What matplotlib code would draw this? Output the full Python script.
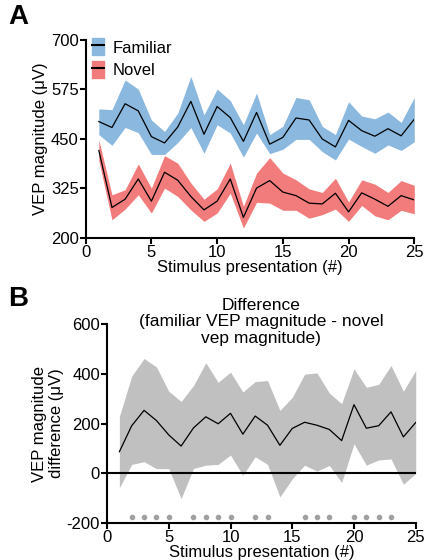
import numpy as np
import matplotlib.pyplot as plt
from matplotlib.patches import Patch
from matplotlib.lines import Line2D

plt.rcParams.update({
    "font.family": ["Liberation Sans", "DejaVu Sans"],
    "axes.unicode_minus": False,
    "axes.linewidth": 1.5,
    "xtick.major.width": 1.5,
    "ytick.major.width": 1.5,
    "xtick.major.size": 4,
    "ytick.major.size": 4,
})

# Stimulus presentations
presentation = np.arange(1, 26)

# Panel A: familiar / novel mean and SEM band edges (uV)
familiar_mean = [494, 479, 539, 521, 456, 440, 480, 545, 462, 532, 504, 444, 517,
                 437, 454, 503, 498, 450, 430, 497, 471, 457, 476, 458, 500]
familiar_upper = [526, 524, 599, 576, 498, 469, 515, 608, 511, 576, 547, 486, 566,
                  461, 482, 555, 549, 482, 461, 544, 508, 501, 518, 492, 555]
familiar_lower = [461, 434, 479, 466, 411, 411, 441, 479, 414, 486, 465, 404, 465,
                  413, 424, 449, 449, 418, 397, 450, 431, 414, 435, 421, 443]

novel_mean = [421, 277, 298, 349, 293, 366, 346, 305, 271, 293, 349, 252, 326,
              345, 316, 307, 288, 286, 313, 266, 314, 298, 280, 307, 296]
novel_upper = [448, 309, 322, 387, 326, 408, 389, 339, 298, 324, 389, 280, 364,
               403, 364, 347, 324, 315, 351, 291, 347, 336, 315, 345, 333]
novel_lower = [395, 246, 273, 309, 263, 326, 305, 271, 242, 263, 313, 225, 290,
               288, 270, 270, 250, 259, 273, 242, 282, 256, 246, 270, 261]

# Panel B: difference mean and band edges (uV)
diff_mean = [86, 191, 253, 212, 154, 109, 182, 227, 199, 241, 157, 230, 193,
             112, 180, 205, 193, 176, 131, 276, 181, 191, 247, 146, 204]
diff_upper = [228, 391, 462, 428, 330, 289, 353, 445, 366, 407, 327, 369, 373,
              253, 305, 399, 404, 323, 280, 420, 346, 358, 434, 330, 414]
diff_lower = [-59, 35, 46, 18, 18, -103, 19, 32, 35, 73, -9, 66, 35,
              -96, -23, 32, 8, 31, -38, 118, 32, 53, 57, -45, -1]

# Presentations marked as significant
significant = [2, 3, 4, 5, 7, 8, 9, 10, 12, 13, 16, 17, 18, 20, 21, 22, 23]

blue = "#8AB8DE"
red = "#F27C7C"
gray = "#C0C0C0"

fig = plt.figure(figsize=(4.25, 5.6), dpi=100)

# ---- Panel A ----
axA = fig.add_axes([0.2016, 0.575, 0.7732, 0.3536])
axA.fill_between(presentation, familiar_lower, familiar_upper, color=blue, lw=0)
axA.fill_between(presentation, novel_lower, novel_upper, color=red, lw=0)
axA.plot(presentation, familiar_mean, color="black", lw=0.9)
axA.plot(presentation, novel_mean, color="black", lw=0.9)
axA.set_xlim(0, 25)
axA.set_ylim(200, 700)
axA.set_xticks([0, 5, 10, 15, 20, 25])
axA.set_yticks([200, 325, 450, 575, 700])
axA.tick_params(labelsize=12, pad=1)
axA.set_xlabel("Stimulus presentation (#)", fontsize=12, labelpad=0)
axA.set_ylabel("VEP magnitude (\u03bcV)", fontsize=12, labelpad=2)
for s in ["top", "right"]:
    axA.spines[s].set_visible(False)

handles = [(Patch(color=blue), Line2D([], [], color="black", lw=1.5)),
           (Patch(color=red), Line2D([], [], color="black", lw=1.5))]
axA.legend(handles, ["Familiar", "Novel"], loc="upper left", frameon=False,
           fontsize=12, handlelength=0.7, handleheight=1.2, handletextpad=0.5,
           borderaxespad=0.1, labelspacing=0.3, bbox_to_anchor=(-0.005, 1.05))

fig.text(0.02, 0.992, "A", fontsize=20, fontweight="bold", va="top", ha="left")

# ---- Panel B ----
axB = fig.add_axes([0.2518, 0.0666, 0.7264, 0.3543])
axB.fill_between(presentation, diff_lower, diff_upper, color=gray, lw=0)
axB.plot(presentation, diff_mean, color="black", lw=0.9)
axB.axhline(0, color="black", lw=1.5)
axB.scatter(significant, [-177] * len(significant), s=9, color="#A0A0A0", zorder=3)
axB.set_xlim(0, 25)
axB.set_ylim(-200, 600)
axB.set_xticks([0, 5, 10, 15, 20, 25])
axB.set_yticks([-200, 0, 200, 400, 600])
axB.tick_params(labelsize=12, pad=1)
axB.set_xlabel("Stimulus presentation (#)", fontsize=12, labelpad=0)
axB.set_ylabel("VEP magnitude\ndifference (\u03bcV)", fontsize=12, labelpad=2)
for s in ["top", "right"]:
    axB.spines[s].set_visible(False)
axB.text(0.5, 1.135, "Difference\n(familiar VEP magnitude - novel\nvep magnitude)",
         transform=axB.transAxes, ha="center", va="top", fontsize=12.5,
         linespacing=1.15)

fig.text(0.02, 0.49, "B", fontsize=20, fontweight="bold", va="top", ha="left")

fig.savefig("out.png", dpi=100)
